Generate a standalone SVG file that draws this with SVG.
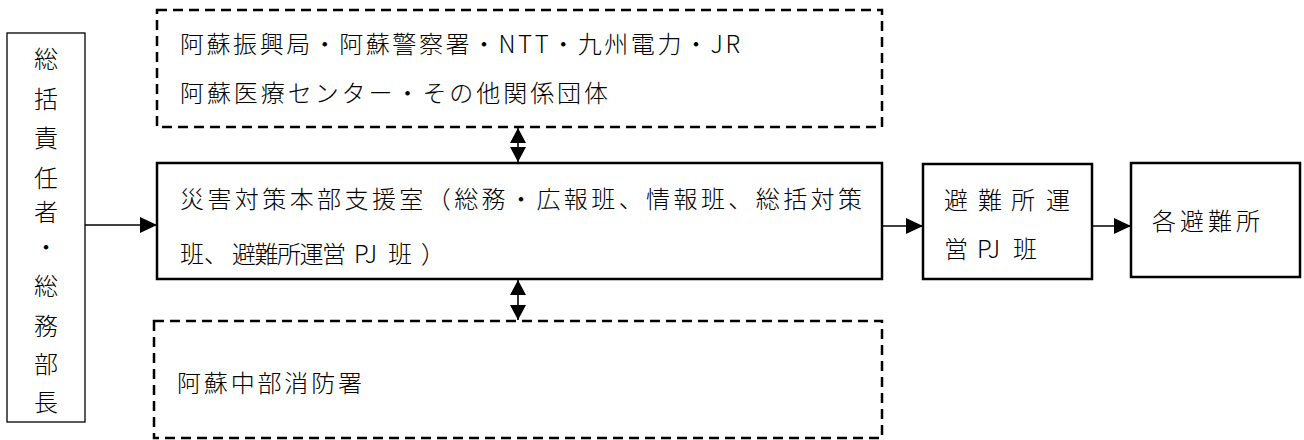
<svg xmlns="http://www.w3.org/2000/svg" width="1304" height="440" viewBox="0 0 1304 440">
<style>
text{font-family:"Noto Sans CJK JP","Noto Sans CJK SC",sans-serif;font-size:24px;font-weight:300;fill:#000}
.solid{fill:#fff;stroke:#000;stroke-width:2.5}
.thin{fill:#fff;stroke:#000;stroke-width:1.3}
.dash{fill:none;stroke:#000;stroke-width:2.5;stroke-dasharray:10 6}
.ln{stroke:#000;stroke-width:1.6;fill:none}
.v{text-anchor:middle}
</style>
<defs>
<marker id="ah" viewBox="0 0 17 16" refX="17" refY="8" markerWidth="17" markerHeight="16" markerUnits="userSpaceOnUse" orient="auto">
<path d="M0,0L17,8L0,16z" fill="#000"/>
</marker>
<marker id="dh" viewBox="0 0 15 16" refX="15" refY="8" markerWidth="15" markerHeight="16" markerUnits="userSpaceOnUse" orient="auto-start-reverse">
<path d="M0,0L15,8L0,16z" fill="#000"/>
</marker>
</defs>
<g id="leader">
<rect class="thin" x="7" y="33" width="78" height="389"/>
<text class="v" x="46" y="68">総</text>
<text class="v" x="46" y="108">括</text>
<text class="v" x="46" y="147">責</text>
<text class="v" x="46" y="187">任</text>
<text class="v" x="46" y="221">者</text>
<text class="v" x="46" y="256">・</text>
<text class="v" x="46" y="295">総</text>
<text class="v" x="46" y="335">務</text>
<text class="v" x="46" y="373">部</text>
<text class="v" x="46" y="411">長</text>
</g>
<g id="agencies">
<rect class="dash" x="157" y="10" width="725" height="117"/>
<text x="180" y="53" textLength="560" lengthAdjust="spacing">阿蘇振興局・阿蘇警察署・NTT・九州電力・JR</text>
<text x="180" y="101.5" textLength="428" lengthAdjust="spacing">阿蘇医療センター・その他関係団体</text>
</g>
<g id="hq">
<rect class="solid" x="157" y="163" width="725" height="116"/>
<text x="180" y="207.5" textLength="682" lengthAdjust="spacing">災害対策本部支援室（総務・広報班、情報班、総括対策</text>
<text y="263"><tspan x="180">班、</tspan><tspan x="232" textLength="114" lengthAdjust="spacing">避難所運営</tspan><tspan x="354">PJ</tspan><tspan x="388">班</tspan><tspan x="421">）</tspan></text>
</g>
<g id="fire">
<rect class="dash" x="154" y="321" width="728" height="117"/>
<text x="177" y="392" textLength="185" lengthAdjust="spacing">阿蘇中部消防署</text>
</g>
<g id="pj">
<rect class="solid" x="923" y="164" width="169" height="115"/>
<text y="209"><tspan x="944">避</tspan><tspan x="978">難</tspan><tspan x="1011">所</tspan><tspan x="1046">運</tspan></text>
<text y="258"><tspan x="944">営</tspan><tspan x="977">PJ</tspan><tspan x="1013">班</tspan></text>
</g>
<g id="shelters">
<rect class="solid" x="1131" y="163" width="169" height="114"/>
<text x="1152" y="229.5" textLength="108" lengthAdjust="spacing">各避難所</text>
</g>
<g id="connectors">
<line class="ln" x1="85" y1="225" x2="157" y2="225" marker-end="url(#ah)"/>
<line class="ln" x1="882" y1="226" x2="923" y2="226" marker-end="url(#ah)"/>
<line class="ln" x1="1092" y1="226" x2="1131" y2="226" marker-end="url(#ah)"/>
<line class="ln" x1="518" y1="128" x2="518" y2="162" marker-start="url(#dh)" marker-end="url(#dh)"/>
<line class="ln" x1="518" y1="280" x2="518" y2="320" marker-start="url(#dh)" marker-end="url(#dh)"/>
</g>
</svg>
